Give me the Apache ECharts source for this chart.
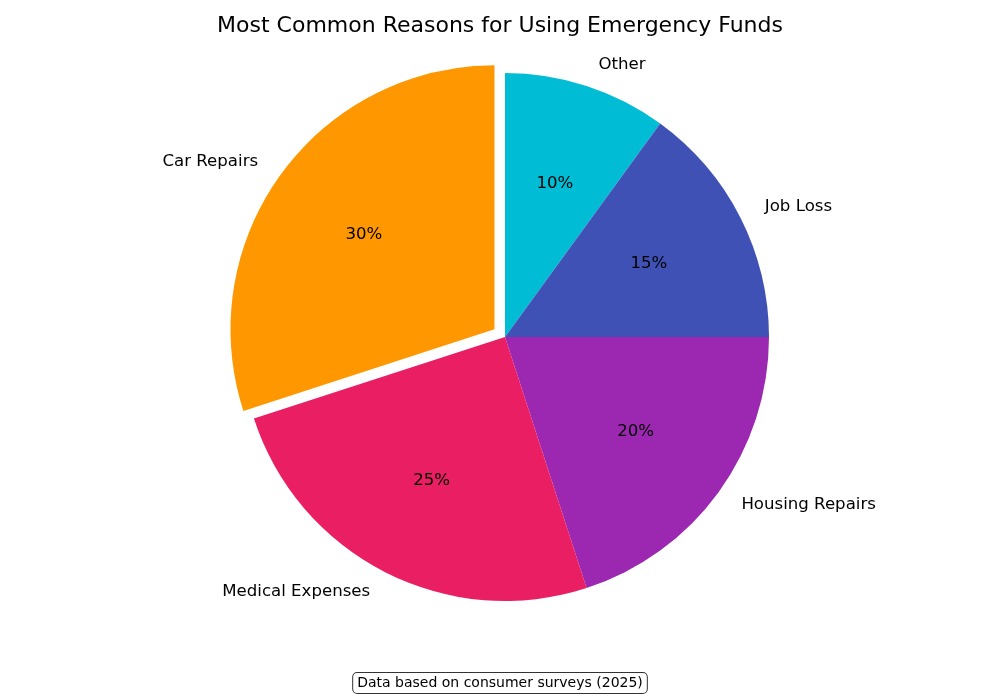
<!DOCTYPE html>
<html><head><meta charset="utf-8">
<script src="https://cdn.jsdelivr.net/npm/echarts@6/dist/echarts.min.js"></script>
<style>html,body{margin:0;padding:0;background:#fff}#c{width:1000px;height:700px}</style>
</head><body><div id="c"></div>
<script>
const categories = ['Other', 'Job Loss', 'Housing Repairs', 'Medical Expenses', 'Car Repairs'];
const values = [10, 15, 20, 25, 30];
const colors = ['#00BCD4', '#3F51B5', '#9C27B0', '#E91E63', '#FF9800'];
const explodedName = 'Car Repairs';

const font = 'DejaVu Sans';
const mk = () => categories.map((n, i) => ({ name: n, value: values[i], selected: n === explodedName, itemStyle: { color: colors[i] } }));
const clear = () => categories.map((n, i) => ({ name: n, value: values[i], selected: n === explodedName, itemStyle: { color: 'rgba(0,0,0,0)' } }));
const base = { type: 'pie', center: [505, 337], startAngle: 90, clockwise: true, selectedMode: 'single', selectedOffset: 13, animation: false, emphasis: { disabled: true } };

const chart = echarts.init(document.getElementById('c'));
chart.setOption({
  title: { text: 'Most Common Reasons for Using Emergency Funds', left: 'center', top: 10,
    textStyle: { fontFamily: font, fontSize: 22, fontWeight: 'normal', color: '#000' } },
  series: [
    Object.assign({}, base, { radius: [0, 264], data: mk(), label: { show: false }, labelLine: { show: false } }),
    Object.assign({}, base, { radius: [0, 264], data: clear(), silent: true,
      label: { show: true, position: 'outside', fontFamily: font, fontSize: 16.6, color: '#000', formatter: '{b}' },
      labelLine: { show: false, length: 22, length2: 0 } }),
    Object.assign({}, base, { radius: [0, 317], data: clear(), silent: true,
      label: { show: true, position: 'inside', fontFamily: font, fontSize: 16.6, color: '#000', formatter: '{c}%' } })
  ],
  graphic: [{ type: 'text', left: 'center', top: 672,
    style: { text: 'Data based on consumer surveys (2025)', font: '14px DejaVu Sans', fill: '#000',
      backgroundColor: '#fff', borderColor: '#333', borderWidth: 1, borderRadius: 4, padding: [3, 4] } }]
});
</script></body></html>
